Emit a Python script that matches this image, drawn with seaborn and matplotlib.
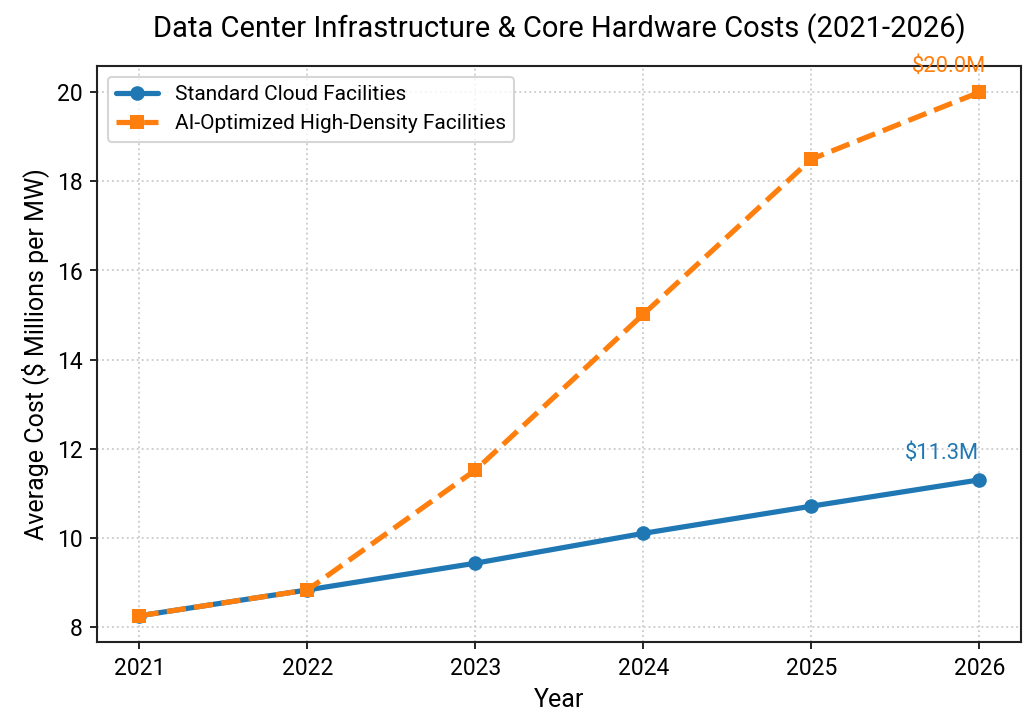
import matplotlib
matplotlib.use("Agg")
import matplotlib.pyplot as plt
import seaborn as sns
import pandas as pd

years = [2021, 2022, 2023, 2024, 2025, 2026]
standard = [8.25, 8.83, 9.43, 10.10, 10.71, 11.30]
ai_opt = [8.25, 8.83, 11.52, 15.02, 18.50, 20.00]
series_names = ["Standard Cloud Facilities", "AI-Optimized High-Density Facilities"]

sns.set_style("ticks")
plt.rcParams['font.family'] = ['Roboto', 'DejaVu Sans']
for k in ["text.color", "axes.labelcolor", "xtick.color", "ytick.color", "axes.edgecolor"]:
    plt.rcParams[k] = "black"

df_std = pd.DataFrame({"Year": years, "Cost": standard})
df_ai = pd.DataFrame({"Year": years, "Cost": ai_opt})

fig, ax = plt.subplots(figsize=(6.913, 4.847), dpi=150)
blue = "#1f77b4"
orange = "#ff7f0e"

sns.lineplot(data=df_std, x="Year", y="Cost", ax=ax, color=blue, marker="o",
             markersize=7, linewidth=2.5, markeredgewidth=0, label=series_names[0])
sns.lineplot(data=df_ai, x="Year", y="Cost", ax=ax, color=orange, marker="s",
             markersize=7, linewidth=2.5, linestyle="--", markeredgewidth=0,
             label=series_names[1])

ax.annotate(f"${standard[-1]:.1f}M", (years[-1], standard[-1]), xytext=(0, 10),
            textcoords="offset points", ha="right", color=blue, fontsize=10.5)
ax.annotate(f"${ai_opt[-1]:.1f}M", (years[-1], ai_opt[-1]), xytext=(3, 10),
            textcoords="offset points", ha="right", color=orange, fontsize=10.5)

ax.set_xticks(years)
ax.set_title("Data Center Infrastructure & Core Hardware Costs (2021-2026)", fontsize=14, pad=14)
ax.set_xlabel("Year", fontsize=12)
ax.set_ylabel("Average Cost ($ Millions per MW)", fontsize=12)
ax.tick_params(labelsize=11, colors="black")
ax.grid(True, linestyle=":", color="#cccccc", linewidth=0.9)
ax.legend(loc="upper left", fontsize=10, frameon=True)
for s in ax.spines.values():
    s.set_linewidth(1.0)
    s.set_color("#222222")

fig.subplots_adjust(left=0.094, right=0.985, top=0.909, bottom=0.117)
fig.savefig("out.png", dpi=150)
